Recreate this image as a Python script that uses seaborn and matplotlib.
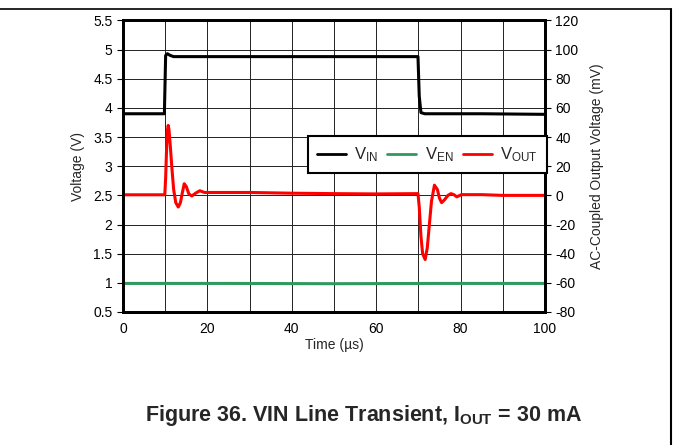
import numpy as np
import pandas as pd
import seaborn as sns
import matplotlib.pyplot as plt
from matplotlib.lines import Line2D

# values
t_vin = [0, 9.8, 10.1, 10.5, 11.2, 12.0, 30, 50, 69.9, 70.2, 70.6, 71.5, 85, 100]
vin = [3.90, 3.90, 4.90, 4.93, 4.90, 4.88, 4.88, 4.88, 4.88, 4.20, 3.92, 3.90, 3.90, 3.89]

t_ven = [0, 25, 50, 75, 100]
ven = [0.99, 0.99, 0.985, 0.99, 0.99]

t_vout = [0, 9.9, 10.1, 10.3, 10.5, 10.7, 10.9, 11.2, 11.6, 12.0, 12.5, 13.1, 13.6,
          14.0, 14.5, 15.0, 15.6, 16.3, 17.2, 18.2, 19.3, 21, 30, 40, 50, 60,
          69.9, 70.2, 70.6, 71.0, 71.6, 72.1, 72.6, 73.1, 73.8, 74.5, 75.0,
          75.5, 76.2, 77.0, 77.7, 78.4, 79.1, 80.2, 85, 90, 100]
vout = [0.4, 0.4, 12, 30, 44, 48, 45, 34, 18, 4, -5, -8, -5,
        1, 8, 6, 1, -0.4, 1.5, 3.2, 2, 2, 2, 1.5, 1.2, 1,
        1.2, -8, -28, -40, -44, -36, -20, -4, 7, 4, -2,
        -5, -3, 0, 1.2, 0.5, -1, 0.5, 0.5, 0, 0]

sns.set_style('white')
plt.rcParams['font.family'] = ['Liberation Sans', 'DejaVu Sans']
plt.rcParams['mathtext.fontset'] = 'custom'
plt.rcParams['mathtext.rm'] = 'Liberation Sans'
plt.rcParams['mathtext.bf'] = 'Liberation Sans:bold'
plt.rcParams['mathtext.default'] = 'regular'
plt.rcParams['axes.unicode_minus'] = False

fig = plt.figure(figsize=(6.73, 4.45), dpi=100)
ax = fig.add_axes([0.1828, 0.2989, 0.627, 0.6551])
ax2 = ax.twinx()

df_in = pd.DataFrame({'t': t_vin, 'v': vin})
df_en = pd.DataFrame({'t': t_ven, 'v': ven})
df_out = pd.DataFrame({'t': t_vout, 'v': vout})

sns.lineplot(data=df_in, x='t', y='v', ax=ax, color='black', lw=2.2, estimator=None, sort=False)
sns.lineplot(data=df_en, x='t', y='v', ax=ax, color='#2e9a5e', lw=2.2, estimator=None, sort=False)
sns.lineplot(data=df_out, x='t', y='v', ax=ax2, color='#ff0000', lw=2.2, estimator=None, sort=False)

ax.set_xlim(0, 100)
ax.set_ylim(0.5, 5.5)
ax2.set_ylim(-80, 120)
ax.set_xticks(np.arange(0, 101, 20))
ax.set_xticks(np.arange(0, 101, 10), minor=True)
ax.set_yticks(np.arange(0.5, 5.51, 0.5))
ax.set_yticklabels(['0.5', '1', '1.5', '2', '2.5', '3', '3.5', '4', '4.5', '5', '5.5'])
ax2.set_yticks(np.arange(-80, 121, 20))
ax.grid(True, which='both', color='#222222', lw=0.7)
ax.set_axisbelow(True)

ax.set_xlabel('Time (µs)', fontsize=10, labelpad=1)
ax.set_ylabel('Voltage (V)', fontsize=10, labelpad=6)
ax2.set_ylabel('AC-Coupled Output Voltage (mV)', fontsize=10, labelpad=8)
for a in (ax, ax2):
    a.tick_params(labelsize=10, length=4, width=0.8, direction='out', colors='black')
    a.tick_params(which='minor', length=0)
    for s in a.spines.values():
        s.set_linewidth(2)
        s.set_color('black')

handles = [Line2D([], [], color='black', lw=2),
           Line2D([], [], color='#2e9a5e', lw=2),
           Line2D([], [], color='#ff0000', lw=2)]
leg = ax2.legend(handles, ['$V_{IN}$', '$V_{EN}$', '$V_{OUT}$'], ncol=3,
                 loc='upper right', bbox_to_anchor=(1.004, 0.603), fontsize=12,
                 frameon=True, fancybox=False, framealpha=1, edgecolor='black',
                 handlelength=1.75, columnspacing=0.55, handletextpad=0.5,
                 borderpad=0.55, borderaxespad=0)
leg.get_frame().set_linewidth(1.5)

fig.text(0.541, 1 - 416 / 445, r'Figure 36. VIN Line Transient, $\mathbf{I_{OUT}}$ = 30 mA',
         ha='center', va='center', fontsize=15.5, fontweight='bold')

# page frame lines
fig.add_artist(Line2D([0, 0.997], [0.980, 0.980], color='black', lw=1.2))
fig.add_artist(Line2D([0.997, 0.997], [0, 0.980], color='black', lw=1.5))

fig.savefig('out.png', dpi=100)
